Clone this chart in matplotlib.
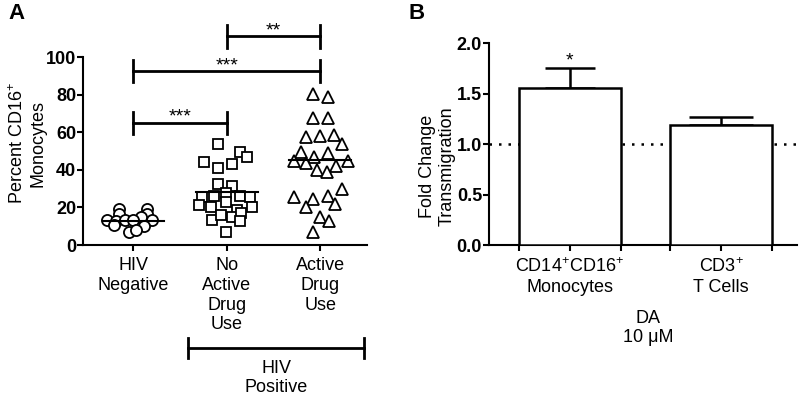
import numpy as np
import matplotlib.pyplot as plt

plt.rcParams['font.family'] = ['Liberation Sans', 'DejaVu Sans']
plt.rcParams['mathtext.fontset'] = 'custom'
plt.rcParams['mathtext.rm'] = 'Liberation Sans'
plt.rcParams['mathtext.bf'] = 'Liberation Sans:bold'

# Panel A data: percent CD16+ monocytes
groups = ['HIV\nNegative', 'No\nActive\nDrug\nUse', 'Active\nDrug\nUse']
hiv_neg = [19.0, 19.0, 16.3, 16.3, 15.1, 13.3, 12.9, 13.3, 13.3, 13.3, 10.6, 10.1, 7.1, 8.0]
hiv_neg_dx = [-0.16, 0.15, -0.16, 0.15, 0.08, -0.28, -0.19, -0.09, -0.01, 0.20, -0.21, 0.11, -0.05, 0.03]
no_drug = [53.5, 44.3, 41.0, 43.0, 49.3, 47.0, 32.4, 31.4, 25.7, 26.0, 27.5, 26.0,
           25.7, 21.3, 20.4, 22.9, 18.6, 20.4, 13.3, 16.0, 15.0, 17.2, 12.9, 7.1]
no_drug_dx = [-0.09, -0.24, -0.09, 0.06, 0.14, 0.22, -0.09, 0.06, -0.27, -0.14, -0.01, 0.14,
              0.25, -0.30, -0.17, -0.01, 0.11, 0.27, -0.16, -0.06, 0.05, 0.15, 0.14, -0.01]
drug = [80.3, 78.9, 67.4, 67.4, 57.6, 58.0, 58.5, 53.7, 49.6, 46.6, 49.1, 44.7, 43.4,
        44.7, 42.0, 39.9, 39.0, 25.7, 24.5, 26.1, 29.8, 20.0, 21.8, 14.7, 12.9, 6.7]
drug_dx = [-0.08, 0.08, -0.08, 0.08, -0.15, 0.0, 0.15, 0.23, -0.21, -0.07, 0.08, -0.28, -0.15,
           0.30, 0.17, -0.04, 0.07, -0.28, -0.08, 0.08, 0.23, -0.15, 0.16, 0.0, 0.09, -0.08]
medians = [13.0, 28.0, 45.0]
sig = [(1, 2, 111, '**'), (0, 2, 92.5, '***'), (0, 1, 65, '***')]

# Panel B data: fold change transmigration
cells = ['CD14$^{+}$CD16$^{+}$\nMonocytes', 'CD3$^{+}$\nT Cells']
fold = [1.55, 1.185]
fold_err = [0.205, 0.085]

W, H = 800, 396
fig = plt.figure(figsize=(8, 3.96), dpi=100)

def style(ax):
    for s in ['top', 'right']:
        ax.spines[s].set_visible(False)
    for s in ['left', 'bottom']:
        ax.spines[s].set_linewidth(1.5)
    ax.tick_params(direction='out', length=4, width=1.5, labelsize=13, pad=1)
    ax.tick_params(axis='x', which='both', length=4, width=1.5, pad=5)

# ---- Panel A ----
axA = fig.add_axes([83 / W, 1 - 245 / H, 284 / W, 188 / H])
style(axA)
series = [(hiv_neg, hiv_neg_dx, 'o', 8), (no_drug, no_drug_dx, 's', 7.5), (drug, drug_dx, '^', 8.5)]
for i, (vals, dx, m, ms) in enumerate(series):
    axA.plot(i + np.array(dx), vals, m, ls='none', mfc='white', mec='black',
             ms=ms, mew=1.3, clip_on=False, zorder=3)
    axA.plot([i - 0.33, i + 0.33], [medians[i]] * 2, color='black', lw=1.5, zorder=4)

for x1, x2, y, s in sig:
    axA.plot([x1, x2], [y, y], color='black', lw=2, clip_on=False)
    for x in (x1, x2):
        axA.plot([x, x], [y - 6, y + 6], color='black', lw=2, clip_on=False)
    axA.text((x1 + x2) / 2, y + 0.5, s, ha='center', va='baseline', fontsize=14)

axA.set_xlim(-0.54, 2.5)
axA.set_ylim(0, 100)
axA.set_yticks(range(0, 101, 20))
axA.set_xticks(range(3))
axA.set_xticklabels(groups, fontsize=13)
for lab in axA.get_yticklabels():
    lab.set_fontweight('bold')

tr = axA.get_xaxis_transform()
axA.plot([0.58, 2.47], [-0.548, -0.548], color='black', lw=2, transform=tr, clip_on=False)
for x in (0.58, 2.47):
    axA.plot([x, x], [-0.548 - 0.055, -0.548 + 0.055], color='black', lw=2,
             transform=tr, clip_on=False)
axA.text(1.53, -0.707, 'HIV\nPositive', ha='center', va='center', fontsize=13, transform=tr)

fig.text(27 / W, 1 - 143 / H, 'Percent CD16$^{+}$\nMonocytes', rotation=90,
         ha='center', va='center', fontsize=13, multialignment='center')
fig.text(8 / W, 1 - 3 / H, 'A', fontsize=16, fontweight='bold', va='top')

# ---- Panel B ----
axB = fig.add_axes([489 / W, 1 - 245 / H, 308 / W, 202 / H])
style(axB)
xb = np.arange(len(fold))
bw = 0.67
axB.axhline(1.0, color='black', lw=1.8, ls=(0, (1, 2.8)), zorder=1)
axB.bar(xb, fold, width=bw, color='white', edgecolor='black', lw=1.8, zorder=3)
for x, y, e, cs in zip(xb, fold, fold_err, [18, 23]):
    axB.errorbar(x, y, yerr=[[0], [e]], fmt='none', ecolor='black', elinewidth=1.8,
                 capsize=cs, capthick=1.8, zorder=2)
axB.text(xb[0], fold[0] + fold_err[0] + 0.02, '*', ha='center', va='baseline', fontsize=14)

axB.set_xlim(-0.536, 1.503)
axB.set_ylim(0, 2.0)
axB.set_yticks(np.arange(0, 2.01, 0.5))
axB.set_yticklabels(['%.1f' % v for v in np.arange(0, 2.01, 0.5)])
for lab in axB.get_yticklabels():
    lab.set_fontweight('bold')
axB.set_xticks(xb)
axB.set_xticklabels(cells, fontsize=13)
axB.set_xticks(np.concatenate([xb - bw / 2, xb + bw / 2]), minor=True)

trB = axB.get_xaxis_transform()
axB.text(0.517, -0.41, 'DA\n10 μM', ha='center', va='center', fontsize=13, transform=trB)

fig.text(437 / W, 1 - 166 / H, 'Fold Change\nTransmigration', rotation=90,
         ha='center', va='center', fontsize=13, multialignment='center')
fig.text(408 / W, 1 - 3 / H, 'B', fontsize=16, fontweight='bold', va='top')

fig.savefig('out.png', dpi=100)
